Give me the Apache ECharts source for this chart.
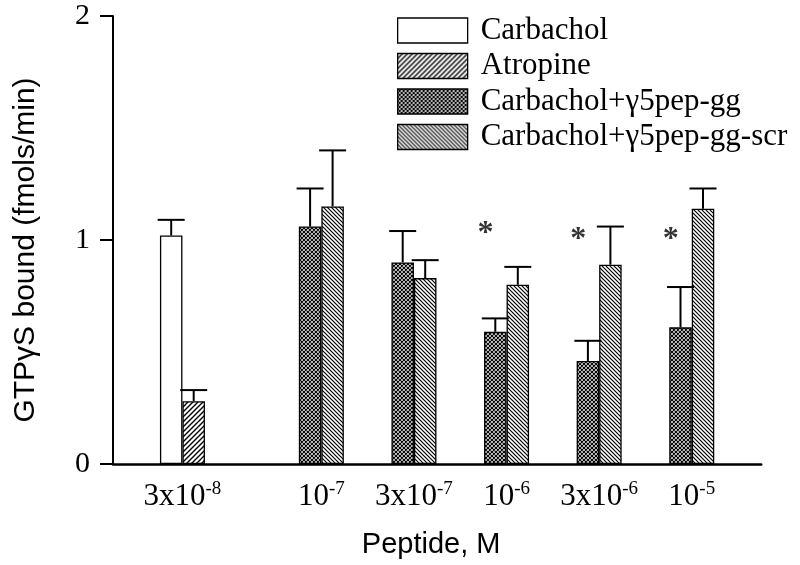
<!DOCTYPE html>
<html>
<head>
<meta charset="utf-8">
<script src="https://cdn.jsdelivr.net/npm/echarts@6/dist/echarts.min.js"></script>
<style>html,body{margin:0;padding:0;background:#fff}#c{width:800px;height:565px}</style>
</head>
<body>
<div id="c"></div>
<script>
// ---- data ----
const peptideLabels = ['3x10^-8', '10^-7', '3x10^-7', '10^-6', '3x10^-6', '10^-5'];
const carbachol    = [1.02, null, null, null, null, null];
const carbacholErr = [0.07, null, null, null, null, null];
const atropine     = [0.28, null, null, null, null, null];
const atropineErr  = [0.05, null, null, null, null, null];
const pepGG        = [null, 1.06, 0.90, 0.59, 0.46, 0.61];
const pepGGErr     = [null, 0.17, 0.14, 0.06, 0.09, 0.18];
const pepScr       = [null, 1.15, 0.83, 0.80, 0.89, 1.14];
const pepScrErr    = [null, 0.25, 0.08, 0.08, 0.17, 0.09];
const starLevel    = [null, null, null, 1.03, 1.00, 1.00];
const seriesNames  = ['Carbachol', 'Atropine', 'Carbachol+\u03B35pep-gg', 'Carbachol+\u03B35pep-gg-scr'];
const yTicks = [0, 1, 2];

// ---- layout helpers ----
const groupSlot = [1, 4, 6, 8, 10, 12];
const nSlots = 14;
const slotW = 46.3;
const barW = 22.5;
const SERIF = "'Liberation Serif','Times New Roman',serif";
const SANS = "'Liberation Sans',Arial,sans-serif";

const categories = new Array(nSlots).fill('');
groupSlot.forEach((s, i) => categories[s] = peptideLabels[i]);
function toSlots(arr) {
  const out = new Array(nSlots).fill(null);
  arr.forEach((v, i) => { if (v != null) out[groupSlot[i]] = v; });
  return out;
}
function errData(vals, errs, side) {
  const out = [];
  vals.forEach((v, i) => { if (v != null) out.push([groupSlot[i], v, errs[i], side]); });
  return out;
}
function pattern(kind) {
  const c = document.createElement('canvas');
  const s = kind === 'fwd' ? 5 : 4;
  c.width = s; c.height = s;
  const g = c.getContext('2d');
  g.fillStyle = '#fff'; g.fillRect(0, 0, s, s);
  g.strokeStyle = '#000';
  g.lineWidth = kind === 'fwd' ? 1.4 : 1.2;
  function fwd() {
    g.moveTo(-1, s + 1); g.lineTo(s + 1, -1);
    g.moveTo(-1, 1); g.lineTo(1, -1);
    g.moveTo(s - 1, s + 1); g.lineTo(s + 1, s - 1);
  }
  function back() {
    g.moveTo(-1, -1); g.lineTo(s + 1, s + 1);
    g.moveTo(s - 1, -1); g.lineTo(s + 1, 1);
    g.moveTo(-1, s - 1); g.lineTo(1, s + 1);
  }
  g.beginPath();
  if (kind === 'fwd') fwd();
  else if (kind === 'back') back();
  else { fwd(); back(); }
  g.stroke();
  return { image: c, repeat: 'repeat' };
}

const chart = echarts.init(document.getElementById('c'), null, { renderer: 'canvas' });

function barSeries(name, data, stack, color) {
  return {
    name, type: 'bar', stack, data: toSlots(data), barWidth: barW, barGap: '0%',
    itemStyle: { color, borderColor: '#000', borderWidth: 1.3 },
    emphasis: { disabled: true }, animation: false
  };
}
function errSeries(vals, errs, side) {
  return {
    type: 'custom', data: errData(vals, errs, side), animation: false, silent: true, z: 5,
    renderItem: (params, api) => {
      const slot = api.value(0), v = api.value(1), e = api.value(2), sd = api.value(3);
      const b = api.coord([slot, v]);
      const t = api.coord([slot, v + e]);
      const x = b[0] + sd * barW / 2;
      const cap = 13.5;
      return { type: 'group', children: [
        { type: 'line', shape: { x1: x, y1: b[1], x2: x, y2: t[1] }, style: { stroke: '#000', lineWidth: 2 } },
        { type: 'line', shape: { x1: x - cap, y1: t[1], x2: x + cap, y2: t[1] }, style: { stroke: '#000', lineWidth: 2 } }
      ] };
    }
  };
}

const gridW = nSlots * slotW;
const option = {
  backgroundColor: '#fff',
  animation: false,
  grid: { left: 113, top: 16, width: gridW, bottom: 101 },
  legend: {
    orient: 'vertical', left: 392, top: 10, icon: 'rect',
    itemWidth: 70, itemHeight: 25, itemGap: 4.5,
    data: seriesNames,
    itemStyle: { borderColor: '#000', borderWidth: 1.3 },
    textStyle: { fontFamily: SERIF, fontSize: 31, color: '#000', lineHeight: 25, padding: [0, 0, 0, 8] },
    selectedMode: false
  },
  xAxis: {
    type: 'category', data: categories,
    axisLine: { lineStyle: { color: '#000', width: 2.5 } },
    axisTick: { show: false },
    axisLabel: {
      interval: 0, margin: 16, color: '#000',
      formatter: (v) => {
        if (!v) return '';
        const p = v.split('^');
        return '{b|' + p[0] + '}{s|' + p[1] + '}';
      },
      rich: {
        b: { fontFamily: SERIF, fontSize: 31, lineHeight: 34, color: '#000' },
        s: { fontFamily: SERIF, fontSize: 19, lineHeight: 12, verticalAlign: 'top', color: '#000' }
      }
    },
    name: 'Peptide, M', nameLocation: 'middle', nameGap: 66,
    nameTextStyle: { fontFamily: SANS, fontSize: 29, color: '#000', padding: [0, 12, 0, 0] }
  },
  yAxis: {
    type: 'value', min: yTicks[0], max: yTicks[yTicks.length - 1], interval: 1,
    axisLine: { show: true, lineStyle: { color: '#000', width: 2 } },
    axisTick: { show: true, length: 13, lineStyle: { color: '#000', width: 2 } },
    splitLine: { show: false },
    axisLabel: { fontFamily: SERIF, fontSize: 30, color: '#000', margin: 23 },
    name: 'GTP\u03B3S bound (fmols/min)', nameLocation: 'middle', nameGap: 72,
    nameTextStyle: { fontFamily: SANS, fontSize: 30, color: '#000', padding: [0, 20, 0, 0] }
  },
  series: [
    barSeries(seriesNames[0], carbachol, 'L', '#fff'),
    barSeries(seriesNames[1], atropine, 'R', pattern('fwd')),
    barSeries(seriesNames[2], pepGG, 'L', pattern('cross')),
    barSeries(seriesNames[3], pepScr, 'R', pattern('back')),
    errSeries(carbachol, carbacholErr, -1),
    errSeries(atropine, atropineErr, 1),
    errSeries(pepGG, pepGGErr, -1),
    errSeries(pepScr, pepScrErr, 1),
    {
      type: 'scatter', symbolSize: 0, silent: true, animation: false,
      data: starLevel.map((v, i) => v == null ? null : [groupSlot[i], v]).filter(d => d),
      label: { show: true, position: 'inside', formatter: '*', offset: [-21, 0],
               fontFamily: SERIF, fontSize: 32, fontWeight: 'bold', color: '#000' }
    }
  ]
};
chart.setOption(option);
</script>
</body>
</html>
